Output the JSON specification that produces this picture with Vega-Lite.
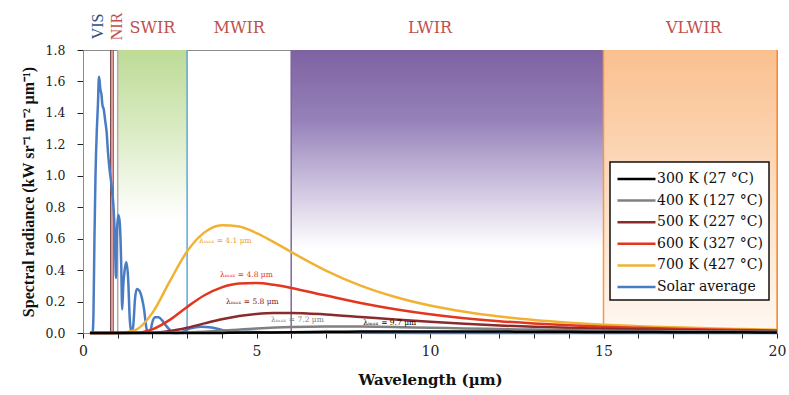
{
  "$schema": "https://vega.github.io/schema/vega-lite/v6.json",
  "width": 694,
  "height": 283,
  "autosize": "none",
  "padding": {"left": 83, "top": 50, "right": 12, "bottom": 62},
  "background": "white",
  "config": {
    "font": "DejaVu Serif",
    "view": {"stroke": "#8c8c8c", "strokeWidth": 1},
    "axis": {"grid": false, "labelFont": "DejaVu Serif", "titleFont": "DejaVu Serif", "labelColor": "#222", "titleColor": "#111", "tickColor": "#222", "domainColor": "#8c8c8c", "labelOverlap": false},
    "axisX": {"tickCount": 20, "labelExpr": "datum.value % 5 === 0 ? datum.label : ''", "format": "d", "labelFlush": false, "tickSize": 5, "labelFontSize": 14, "labelPadding": 6, "titleFontSize": 15, "titleFontWeight": "bold", "titlePadding": 14},
    "axisY": {"tickCount": 9, "format": ".1f", "labelFlush": false, "tickSize": 6, "labelFontSize": 12.5, "labelPadding": 12, "titleFont": "Liberation Serif", "titleFontSize": 16, "titleFontWeight": "bold", "titlePadding": 9},
    "legend": {"strokeWidth": 1.5}
  },
  "datasets": {
    "bands": [
      {"band": "SWIR", "start": 1.0, "end": 3.0},
      {"band": "LWIR", "start": 6.0, "end": 15.0},
      {"band": "VLWIR", "start": 15.0, "end": 20.0}
    ],
    "rules": [
      {"wl": 0.8, "c": "#7a4b4b"},
      {"wl": 0.87, "c": "#c0504d"},
      {"wl": 1.0, "c": "#b5aaaa"},
      {"wl": 3.0, "c": "#5fa8d3"},
      {"wl": 6.0, "c": "#8064a2"},
      {"wl": 15.0, "c": "#f79646"},
      {"wl": 20.0, "c": "#f79646"}
    ],
    "toplabels": [
      {"t": "SWIR", "x": 2.0, "y": 1.94},
      {"t": "MWIR", "x": 4.5, "y": 1.94},
      {"t": "LWIR", "x": 10.0, "y": 1.94},
      {"t": "VLWIR", "x": 17.6, "y": 1.94}
    ],
    "sidelabels": [
      {"t": "VIS", "x": 0.43, "y": 1.95, "c": "#2f4f7f"},
      {"t": "NIR", "x": 0.99, "y": 1.95, "c": "#c0504d"}
    ],
    "notes": [
      {"t": "λₘₐₓ = 4.1 µm", "x": 4.1, "y": 0.585, "c": "#f0a020"},
      {"t": "λₘₐₓ = 4.8 µm", "x": 4.71, "y": 0.369, "c": "#e0301e"},
      {"t": "λₘₐₓ = 5.8 µm", "x": 4.88, "y": 0.197, "c": "#7b2020"},
      {"t": "λₘₐₓ = 7.2 µm", "x": 6.18, "y": 0.083, "c": "#808080"},
      {"t": "λₘₐₓ = 9.7 µm", "x": 8.84, "y": 0.064, "c": "#000000"}
    ],
    "curves": [
      {"s": "Solar average", "wl": 0.28, "v": 0.0},
      {"s": "Solar average", "wl": 0.30, "v": 0.1},
      {"s": "Solar average", "wl": 0.33, "v": 0.6},
      {"s": "Solar average", "wl": 0.36, "v": 1.0},
      {"s": "Solar average", "wl": 0.40, "v": 1.30},
      {"s": "Solar average", "wl": 0.43, "v": 1.45},
      {"s": "Solar average", "wl": 0.46, "v": 1.63},
      {"s": "Solar average", "wl": 0.48, "v": 1.60},
      {"s": "Solar average", "wl": 0.50, "v": 1.55},
      {"s": "Solar average", "wl": 0.53, "v": 1.52},
      {"s": "Solar average", "wl": 0.56, "v": 1.45},
      {"s": "Solar average", "wl": 0.60, "v": 1.42},
      {"s": "Solar average", "wl": 0.64, "v": 1.35},
      {"s": "Solar average", "wl": 0.68, "v": 1.28},
      {"s": "Solar average", "wl": 0.72, "v": 1.15},
      {"s": "Solar average", "wl": 0.76, "v": 1.05},
      {"s": "Solar average", "wl": 0.80, "v": 0.98},
      {"s": "Solar average", "wl": 0.84, "v": 0.90},
      {"s": "Solar average", "wl": 0.88, "v": 0.80},
      {"s": "Solar average", "wl": 0.92, "v": 0.60},
      {"s": "Solar average", "wl": 0.95, "v": 0.35},
      {"s": "Solar average", "wl": 0.98, "v": 0.65},
      {"s": "Solar average", "wl": 1.02, "v": 0.75},
      {"s": "Solar average", "wl": 1.06, "v": 0.70},
      {"s": "Solar average", "wl": 1.10, "v": 0.45},
      {"s": "Solar average", "wl": 1.13, "v": 0.15},
      {"s": "Solar average", "wl": 1.16, "v": 0.30},
      {"s": "Solar average", "wl": 1.20, "v": 0.40},
      {"s": "Solar average", "wl": 1.25, "v": 0.45},
      {"s": "Solar average", "wl": 1.30, "v": 0.35},
      {"s": "Solar average", "wl": 1.35, "v": 0.08},
      {"s": "Solar average", "wl": 1.40, "v": 0.0},
      {"s": "Solar average", "wl": 1.45, "v": 0.05},
      {"s": "Solar average", "wl": 1.50, "v": 0.22},
      {"s": "Solar average", "wl": 1.55, "v": 0.28},
      {"s": "Solar average", "wl": 1.62, "v": 0.27},
      {"s": "Solar average", "wl": 1.70, "v": 0.22},
      {"s": "Solar average", "wl": 1.76, "v": 0.15},
      {"s": "Solar average", "wl": 1.82, "v": 0.04},
      {"s": "Solar average", "wl": 1.88, "v": 0.0},
      {"s": "Solar average", "wl": 1.95, "v": 0.02},
      {"s": "Solar average", "wl": 2.00, "v": 0.07},
      {"s": "Solar average", "wl": 2.08, "v": 0.10},
      {"s": "Solar average", "wl": 2.18, "v": 0.10},
      {"s": "Solar average", "wl": 2.28, "v": 0.08},
      {"s": "Solar average", "wl": 2.38, "v": 0.05},
      {"s": "Solar average", "wl": 2.50, "v": 0.02},
      {"s": "Solar average", "wl": 2.60, "v": 0.0},
      {"s": "Solar average", "wl": 2.75, "v": 0.0},
      {"s": "Solar average", "wl": 2.90, "v": 0.01},
      {"s": "Solar average", "wl": 3.10, "v": 0.03},
      {"s": "Solar average", "wl": 3.40, "v": 0.04},
      {"s": "Solar average", "wl": 3.70, "v": 0.035},
      {"s": "Solar average", "wl": 4.00, "v": 0.02},
      {"s": "Solar average", "wl": 4.20, "v": 0.01},
      {"s": "Solar average", "wl": 4.40, "v": 0.005},
      {"s": "Solar average", "wl": 4.70, "v": 0.008},
      {"s": "Solar average", "wl": 5.20, "v": 0.005},
      {"s": "Solar average", "wl": 6.00, "v": 0.003},
      {"s": "Solar average", "wl": 8.00, "v": 0.001},
      {"s": "Solar average", "wl": 12.0, "v": 0.0},
      {"s": "Solar average", "wl": 20.0, "v": 0.0},

      {"s": "700 K (427 °C)", "wl": 0.2, "v": 0.0},
      {"s": "700 K (427 °C)", "wl": 1.0, "v": 0.0001},
      {"s": "700 K (427 °C)", "wl": 1.5, "v": 0.0176},
      {"s": "700 K (427 °C)", "wl": 2.0, "v": 0.128},
      {"s": "700 K (427 °C)", "wl": 2.5, "v": 0.328},
      {"s": "700 K (427 °C)", "wl": 3.0, "v": 0.519},
      {"s": "700 K (427 °C)", "wl": 3.5, "v": 0.640},
      {"s": "700 K (427 °C)", "wl": 4.0, "v": 0.686},
      {"s": "700 K (427 °C)", "wl": 4.5, "v": 0.677},
      {"s": "700 K (427 °C)", "wl": 5.0, "v": 0.635},
      {"s": "700 K (427 °C)", "wl": 5.5, "v": 0.578},
      {"s": "700 K (427 °C)", "wl": 6.0, "v": 0.515},
      {"s": "700 K (427 °C)", "wl": 7.0, "v": 0.397},
      {"s": "700 K (427 °C)", "wl": 8.0, "v": 0.301},
      {"s": "700 K (427 °C)", "wl": 9.0, "v": 0.229},
      {"s": "700 K (427 °C)", "wl": 10.0, "v": 0.175},
      {"s": "700 K (427 °C)", "wl": 11.0, "v": 0.135},
      {"s": "700 K (427 °C)", "wl": 12.0, "v": 0.105},
      {"s": "700 K (427 °C)", "wl": 13.0, "v": 0.083},
      {"s": "700 K (427 °C)", "wl": 14.0, "v": 0.066},
      {"s": "700 K (427 °C)", "wl": 15.0, "v": 0.053},
      {"s": "700 K (427 °C)", "wl": 16.0, "v": 0.0435},
      {"s": "700 K (427 °C)", "wl": 17.0, "v": 0.036},
      {"s": "700 K (427 °C)", "wl": 18.0, "v": 0.030},
      {"s": "700 K (427 °C)", "wl": 19.0, "v": 0.025},
      {"s": "700 K (427 °C)", "wl": 20.0, "v": 0.021},

      {"s": "600 K (327 °C)", "wl": 0.2, "v": 0.0},
      {"s": "600 K (327 °C)", "wl": 1.5, "v": 0.0018},
      {"s": "600 K (327 °C)", "wl": 2.0, "v": 0.0231},
      {"s": "600 K (327 °C)", "wl": 2.5, "v": 0.0833},
      {"s": "600 K (327 °C)", "wl": 3.0, "v": 0.1656},
      {"s": "600 K (327 °C)", "wl": 3.5, "v": 0.240},
      {"s": "600 K (327 °C)", "wl": 4.0, "v": 0.2905},
      {"s": "600 K (327 °C)", "wl": 4.5, "v": 0.3145},
      {"s": "600 K (327 °C)", "wl": 5.0, "v": 0.3176},
      {"s": "600 K (327 °C)", "wl": 5.5, "v": 0.3063},
      {"s": "600 K (327 °C)", "wl": 6.0, "v": 0.2868},
      {"s": "600 K (327 °C)", "wl": 7.0, "v": 0.2382},
      {"s": "600 K (327 °C)", "wl": 8.0, "v": 0.1909},
      {"s": "600 K (327 °C)", "wl": 9.0, "v": 0.151},
      {"s": "600 K (327 °C)", "wl": 10.0, "v": 0.1191},
      {"s": "600 K (327 °C)", "wl": 11.0, "v": 0.0943},
      {"s": "600 K (327 °C)", "wl": 12.0, "v": 0.0751},
      {"s": "600 K (327 °C)", "wl": 13.0, "v": 0.0602},
      {"s": "600 K (327 °C)", "wl": 14.0, "v": 0.0487},
      {"s": "600 K (327 °C)", "wl": 15.0, "v": 0.0397},
      {"s": "600 K (327 °C)", "wl": 16.0, "v": 0.0327},
      {"s": "600 K (327 °C)", "wl": 17.0, "v": 0.0271},
      {"s": "600 K (327 °C)", "wl": 18.0, "v": 0.0226},
      {"s": "600 K (327 °C)", "wl": 19.0, "v": 0.0190},
      {"s": "600 K (327 °C)", "wl": 20.0, "v": 0.0161},

      {"s": "500 K (227 °C)", "wl": 0.2, "v": 0.0},
      {"s": "500 K (227 °C)", "wl": 2.0, "v": 0.0021},
      {"s": "500 K (227 °C)", "wl": 2.5, "v": 0.0122},
      {"s": "500 K (227 °C)", "wl": 3.0, "v": 0.0335},
      {"s": "500 K (227 °C)", "wl": 3.5, "v": 0.061},
      {"s": "500 K (227 °C)", "wl": 4.0, "v": 0.0874},
      {"s": "500 K (227 °C)", "wl": 4.5, "v": 0.108},
      {"s": "500 K (227 °C)", "wl": 5.0, "v": 0.121},
      {"s": "500 K (227 °C)", "wl": 5.5, "v": 0.1271},
      {"s": "500 K (227 °C)", "wl": 6.0, "v": 0.1276},
      {"s": "500 K (227 °C)", "wl": 7.0, "v": 0.1181},
      {"s": "500 K (227 °C)", "wl": 8.0, "v": 0.1024},
      {"s": "500 K (227 °C)", "wl": 9.0, "v": 0.0859},
      {"s": "500 K (227 °C)", "wl": 10.0, "v": 0.071},
      {"s": "500 K (227 °C)", "wl": 11.0, "v": 0.0583},
      {"s": "500 K (227 °C)", "wl": 12.0, "v": 0.0479},
      {"s": "500 K (227 °C)", "wl": 13.0, "v": 0.0394},
      {"s": "500 K (227 °C)", "wl": 14.0, "v": 0.0325},
      {"s": "500 K (227 °C)", "wl": 15.0, "v": 0.027},
      {"s": "500 K (227 °C)", "wl": 16.0, "v": 0.0225},
      {"s": "500 K (227 °C)", "wl": 17.0, "v": 0.0189},
      {"s": "500 K (227 °C)", "wl": 18.0, "v": 0.016},
      {"s": "500 K (227 °C)", "wl": 19.0, "v": 0.0136},
      {"s": "500 K (227 °C)", "wl": 20.0, "v": 0.0116},

      {"s": "400 K (127 °C)", "wl": 0.2, "v": 0.0},
      {"s": "400 K (127 °C)", "wl": 3.0, "v": 0.003},
      {"s": "400 K (127 °C)", "wl": 4.0, "v": 0.0145},
      {"s": "400 K (127 °C)", "wl": 5.0, "v": 0.0286},
      {"s": "400 K (127 °C)", "wl": 6.0, "v": 0.0383},
      {"s": "400 K (127 °C)", "wl": 7.0, "v": 0.0418},
      {"s": "400 K (127 °C)", "wl": 8.0, "v": 0.041},
      {"s": "400 K (127 °C)", "wl": 9.0, "v": 0.0378},
      {"s": "400 K (127 °C)", "wl": 10.0, "v": 0.0336},
      {"s": "400 K (127 °C)", "wl": 11.0, "v": 0.0292},
      {"s": "400 K (127 °C)", "wl": 12.0, "v": 0.0251},
      {"s": "400 K (127 °C)", "wl": 13.0, "v": 0.0215},
      {"s": "400 K (127 °C)", "wl": 14.0, "v": 0.0184},
      {"s": "400 K (127 °C)", "wl": 15.0, "v": 0.0157},
      {"s": "400 K (127 °C)", "wl": 16.0, "v": 0.0134},
      {"s": "400 K (127 °C)", "wl": 17.0, "v": 0.0115},
      {"s": "400 K (127 °C)", "wl": 18.0, "v": 0.0099},
      {"s": "400 K (127 °C)", "wl": 19.0, "v": 0.0085},
      {"s": "400 K (127 °C)", "wl": 20.0, "v": 0.0074},

      {"s": "300 K (27 °C)", "wl": 0.2, "v": 0.0},
      {"s": "300 K (27 °C)", "wl": 4.0, "v": 0.0007},
      {"s": "300 K (27 °C)", "wl": 5.0, "v": 0.0026},
      {"s": "300 K (27 °C)", "wl": 6.0, "v": 0.0052},
      {"s": "300 K (27 °C)", "wl": 7.0, "v": 0.0075},
      {"s": "300 K (27 °C)", "wl": 8.0, "v": 0.0091},
      {"s": "300 K (27 °C)", "wl": 9.0, "v": 0.0098},
      {"s": "300 K (27 °C)", "wl": 10.0, "v": 0.0099},
      {"s": "300 K (27 °C)", "wl": 11.0, "v": 0.0096},
      {"s": "300 K (27 °C)", "wl": 12.0, "v": 0.009},
      {"s": "300 K (27 °C)", "wl": 13.0, "v": 0.0082},
      {"s": "300 K (27 °C)", "wl": 14.0, "v": 0.0074},
      {"s": "300 K (27 °C)", "wl": 15.0, "v": 0.0067},
      {"s": "300 K (27 °C)", "wl": 16.0, "v": 0.006},
      {"s": "300 K (27 °C)", "wl": 17.0, "v": 0.0053},
      {"s": "300 K (27 °C)", "wl": 18.0, "v": 0.0047},
      {"s": "300 K (27 °C)", "wl": 19.0, "v": 0.0042},
      {"s": "300 K (27 °C)", "wl": 20.0, "v": 0.0037}
    ]
  },
  "layer": [
    {
      "data": {"name": "bands"},
      "transform": [{"filter": "datum.band === 'SWIR'"}],
      "mark": {"type": "rect", "fill": {"gradient": "linear", "x1": 0, "y1": 0, "x2": 0, "y2": 1, "stops": [{"offset": 0, "color": "#bddb96"}, {"offset": 0.3, "color": "#dcecc6"}, {"offset": 0.6, "color": "#ffffff"}]}},
      "encoding": {
        "x": {"field": "start", "type": "quantitative", "scale": {"domain": [0, 20], "nice": false}},
        "x2": {"field": "end"},
        "y": {"datum": 1.8, "type": "quantitative", "scale": {"domain": [0, 1.8], "nice": false}},
        "y2": {"datum": 0}
      }
    },
    {
      "data": {"name": "bands"},
      "transform": [{"filter": "datum.band === 'LWIR'"}],
      "mark": {"type": "rect", "fill": {"gradient": "linear", "x1": 0, "y1": 0, "x2": 0, "y2": 1, "stops": [{"offset": 0, "color": "#7e62a2"}, {"offset": 0.25, "color": "#9682b9"}, {"offset": 0.5, "color": "#d2c8e2"}, {"offset": 0.7, "color": "#ffffff"}]}},
      "encoding": {
        "x": {"field": "start", "type": "quantitative"},
        "x2": {"field": "end"},
        "y": {"datum": 1.8, "type": "quantitative"},
        "y2": {"datum": 0}
      }
    },
    {
      "data": {"name": "bands"},
      "transform": [{"filter": "datum.band === 'VLWIR'"}],
      "mark": {"type": "rect", "fill": {"gradient": "linear", "x1": 0, "y1": 0, "x2": 0, "y2": 1, "stops": [{"offset": 0, "color": "#fac08f"}, {"offset": 0.6, "color": "#fde3cc"}, {"offset": 1, "color": "#fff8f2"}]}},
      "encoding": {
        "x": {"field": "start", "type": "quantitative"},
        "x2": {"field": "end"},
        "y": {"datum": 1.8, "type": "quantitative"},
        "y2": {"datum": 0}
      }
    },
    {
      "data": {"name": "rules"},
      "mark": {"type": "rule", "strokeWidth": 1.5},
      "encoding": {
        "x": {"field": "wl", "type": "quantitative"},
        "stroke": {"field": "c", "type": "nominal", "scale": null}
      }
    },
    {
      "data": {"name": "curves"},
      "mark": {"type": "line", "strokeWidth": 2.5, "interpolate": "monotone"},
      "encoding": {
        "x": {"field": "wl", "type": "quantitative", "title": "Wavelength (µm)"},
        "y": {"field": "v", "type": "quantitative", "title": "Spectral radiance (kW sr⁻¹ m⁻² µm⁻¹)"},
        "color": {
          "field": "s", "type": "nominal",
          "scale": {"domain": ["300 K (27 °C)", "400 K (127 °C)", "500 K (227 °C)", "600 K (327 °C)", "700 K (427 °C)", "Solar average"], "range": ["#000000", "#808080", "#8b2a2a", "#e2361f", "#f1b233", "#4a7cc4"]},
          "legend": {"title": null, "orient": "none", "legendX": 527, "legendY": 112, "fillColor": "white", "strokeColor": "#111", "padding": 6, "symbolType": "M-1,0H3", "symbolSize": 361, "symbolStrokeWidth": 2.5, "symbolFillColor": "transparent", "labelFont": "DejaVu Serif", "labelFontSize": 14, "labelColor": "#111", "labelOffset": 19, "rowPadding": 3.6}
        }
      }
    },
    {
      "data": {"name": "notes"},
      "mark": {"type": "text", "fontSize": 7.5, "font": "DejaVu Serif"},
      "encoding": {
        "x": {"field": "x", "type": "quantitative"},
        "y": {"field": "y", "type": "quantitative"},
        "text": {"field": "t"},
        "color": {"field": "c", "type": "nominal", "scale": null}
      }
    },
    {
      "data": {"name": "toplabels"},
      "mark": {"type": "text", "fontSize": 16, "font": "DejaVu Serif", "color": "#c0504d", "baseline": "middle"},
      "encoding": {
        "x": {"field": "x", "type": "quantitative"},
        "y": {"field": "y", "type": "quantitative"},
        "text": {"field": "t"}
      }
    },
    {
      "data": {"name": "sidelabels"},
      "mark": {"type": "text", "fontSize": 16, "font": "Liberation Serif", "angle": 270, "baseline": "middle", "align": "center"},
      "encoding": {
        "x": {"field": "x", "type": "quantitative"},
        "y": {"field": "y", "type": "quantitative"},
        "text": {"field": "t"},
        "color": {"field": "c", "type": "nominal", "scale": null}
      }
    }
  ]
}
